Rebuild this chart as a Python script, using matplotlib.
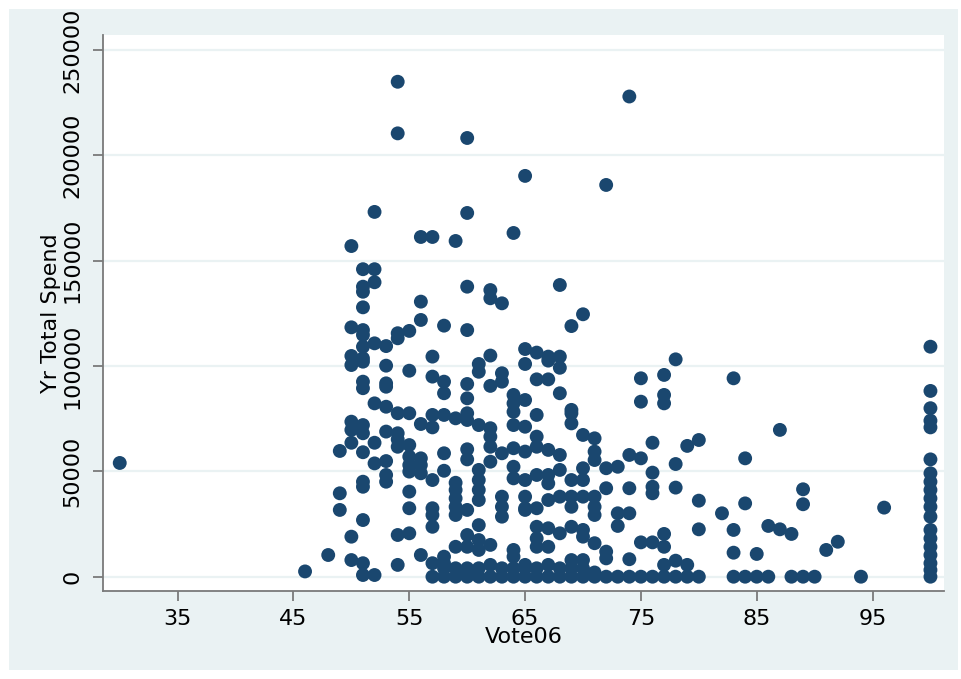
import matplotlib
matplotlib.use("Agg")
import matplotlib.pyplot as plt
from matplotlib.patches import Rectangle
from matplotlib.transforms import Bbox

# ---- data: Vote06 value levels and the Yr Total Spend values (thousands) observed at each ----
vote_levels = [30, 46, 48, 49, 50, 51, 52, 53, 54, 55, 56, 57, 58, 59, 60, 61, 62, 63, 64, 65,
               66, 67, 68, 69, 70, 71, 72, 73, 74, 75, 76, 77, 78, 79, 80, 82, 83, 84, 85, 86,
               87, 88, 89, 90, 91, 92, 94, 96, 100]
spend_k_by_level = [
    [54],
    [2.5],
    [10.3],
    [59.7, 39.6, 31.7],
    [157, 118.4, 104.8, 100.5, 73.6, 69.7, 63.6, 19, 7.9],
    [146, 137.7, 135.3, 127.9, 117.1, 114.8, 109.2, 103.7, 102.1, 92.6, 89.5, 72, 68.1, 59.1,
     45.1, 42.7, 26.9, 6.4, 0.8],
    [173.2, 146, 139.8, 110.8, 82.3, 63.6, 53.8, 0.8],
    [109.5, 100.2, 91.8, 90.2, 80.7, 68.9, 54.9, 48.3, 45.1],
    [235, 210.5, 115.6, 113.2, 77.6, 68.1, 65.2, 61.7, 19.8, 5.6],
    [116.7, 97.8, 77.6, 62.5, 57, 53, 49.9, 40.4, 32.5, 20.6],
    [161.3, 130.6, 121.9, 72.5, 56.2, 53, 49.1, 10.3],
    [161.3, 104.5, 95, 76.8, 70.9, 45.9, 32.5, 29.3, 23.7, 6.4, 0],
    [119.2, 92.6, 87.1, 76.8, 58.6, 50.3, 9.5, 6.4, 4, 0],
    [159.4, 75.2, 44.6, 41.2, 37.2, 33.2, 29.3, 14.2, 4, 0],
    [208.3, 172.7, 137.7, 117.1, 91.5, 84.7, 77.6, 74.4, 60.5, 55.7, 31.7, 19.8, 14.2, 4, 1.5, 0],
    [101, 97.3, 72, 50.7, 45.9, 41.2, 36.4, 24.5, 17.4, 12.7, 4, 0],
    [136.1, 132.2, 105, 90.6, 70.5, 66.5, 61.7, 54.6, 15.1, 5.6, 0],
    [129.8, 96.6, 92.6, 58.6, 38, 33.2, 28.5, 4, 0],
    [163.2, 86.3, 82.3, 78.3, 72, 61, 52.2, 46.7, 12.7, 9.5, 4, 0],
    [190.3, 108.1, 101, 83.9, 71.2, 59.4, 45.9, 38, 32.5, 31.7, 5.6, 4, 0],
    [106.4, 93.7, 76.8, 66.5, 61.7, 48.3, 32.5, 23.7, 18.2, 14.2, 4, 0],
    [104.5, 102.6, 93.7, 60.2, 48.3, 44.3, 36.4, 23, 14.2, 5.6, 0],
    [138.5, 104.5, 99.2, 87.1, 57.8, 50.7, 38, 20.6, 4, 0],
    [119, 79.2, 77.6, 72.8, 45.9, 38, 33.2, 23.7, 7.9, 4, 0],
    [124.6, 67.3, 51.5, 45.9, 38, 22.2, 19, 7.9, 4, 0],
    [65.7, 59.4, 55.4, 38, 33.2, 29.3, 15.9, 2, 0],
    [186, 51.5, 42, 11.9, 8.7, 0],
    [52.2, 30.1, 24.1, 0],
    [228, 57.8, 42, 30.1, 8.3, 0],
    [94.2, 83.1, 56.2, 16.3, 0],
    [63.6, 49.4, 42.7, 39.6, 16.3, 0],
    [95.8, 86.3, 82.3, 20.3, 14.2, 5.6, 0],
    [103.2, 53.5, 42.3, 7.6, 0],
    [62.1, 5.6, 0],
    [64.9, 36.1, 22.5, 0],
    [30.1],
    [94.2, 22.2, 11.4, 0],
    [56.2, 34.8, 0],
    [10.8, 0],
    [24.1, 0],
    [69.7, 22.5],
    [20.3, 0],
    [41.5, 34.4, 0],
    [0],
    [12.7],
    [16.6],
    [0],
    [32.8],
    [109.2, 88.2, 80, 74.1, 70.9, 55.7, 49.1, 45.1, 41.2, 37.2, 33.2, 28.5, 22.2, 18.2, 14.2,
     10.3, 6.4, 3.2, 0],
]
x_ticks = [35, 45, 55, 65, 75, 85, 95]
y_ticks = [0, 50000, 100000, 150000, 200000, 250000]
x_title = "Vote06"
y_title = "Yr Total Spend"

vote06 = []
spend = []
for v, ys in zip(vote_levels, spend_k_by_level):
    for y in ys:
        vote06.append(v)
        spend.append(y * 1000)

# ---- figure ----
W, H = 961, 679
fig = plt.figure(figsize=(W / 100, H / 100), dpi=100, facecolor="white")

# light blue graph region
px0, py0, px1, py1 = 9, 9, 958, 670   # pixel box (from top-left)
fig.patches.append(Rectangle((px0 / W, (H - py1) / H), (px1 - px0) / W, (py1 - py0) / H,
                             transform=fig.transFigure, facecolor="#EAF2F3",
                             edgecolor="none", zorder=-10))
panel_bbox = Bbox([[px0, H - py1], [px1, H - py0]])  # display coords (pixels, origin bottom)

left, right, top, bottom = 103.3, 944, 35, 590.7
ax = fig.add_axes([left / W, (H - bottom) / H, (right - left) / W, (bottom - top) / H])
ax.set_zorder(5)
ax.set_facecolor("white")

ax.scatter(vote06, spend, s=100, color="#1A476F", edgecolors="none", zorder=3)

ax.set_xlim(28.58, 101.17)
ax.set_ylim(-6650, 257200)

ax.set_xticks(x_ticks)
ax.set_yticks(y_ticks)
ax.set_xticklabels([str(t) for t in x_ticks])
ax.set_yticklabels([str(t) for t in y_ticks], rotation=90, va="center")

ax.grid(axis="y", color="#EAF2F3", linewidth=1.6, zorder=1)
ax.set_axisbelow(True)

for s in ["top", "right"]:
    ax.spines[s].set_visible(False)
for s in ["left", "bottom"]:
    ax.spines[s].set_color("#7a7a7a")
    ax.spines[s].set_linewidth(1.3)

ax.tick_params(axis="both", direction="out", length=7, width=1.3, color="#7a7a7a",
               labelsize=16, labelcolor="black")
ax.tick_params(axis="x", pad=6)
ax.tick_params(axis="y", pad=8)

ax.set_xlabel(x_title, fontsize=16, labelpad=-1)
ax.set_ylabel(y_title, fontsize=16, labelpad=1)

for lab in ax.get_yticklabels():
    lab.set_clip_box(panel_bbox)
    lab.set_clip_on(True)

fig.savefig("out.png", dpi=100, facecolor="white")
